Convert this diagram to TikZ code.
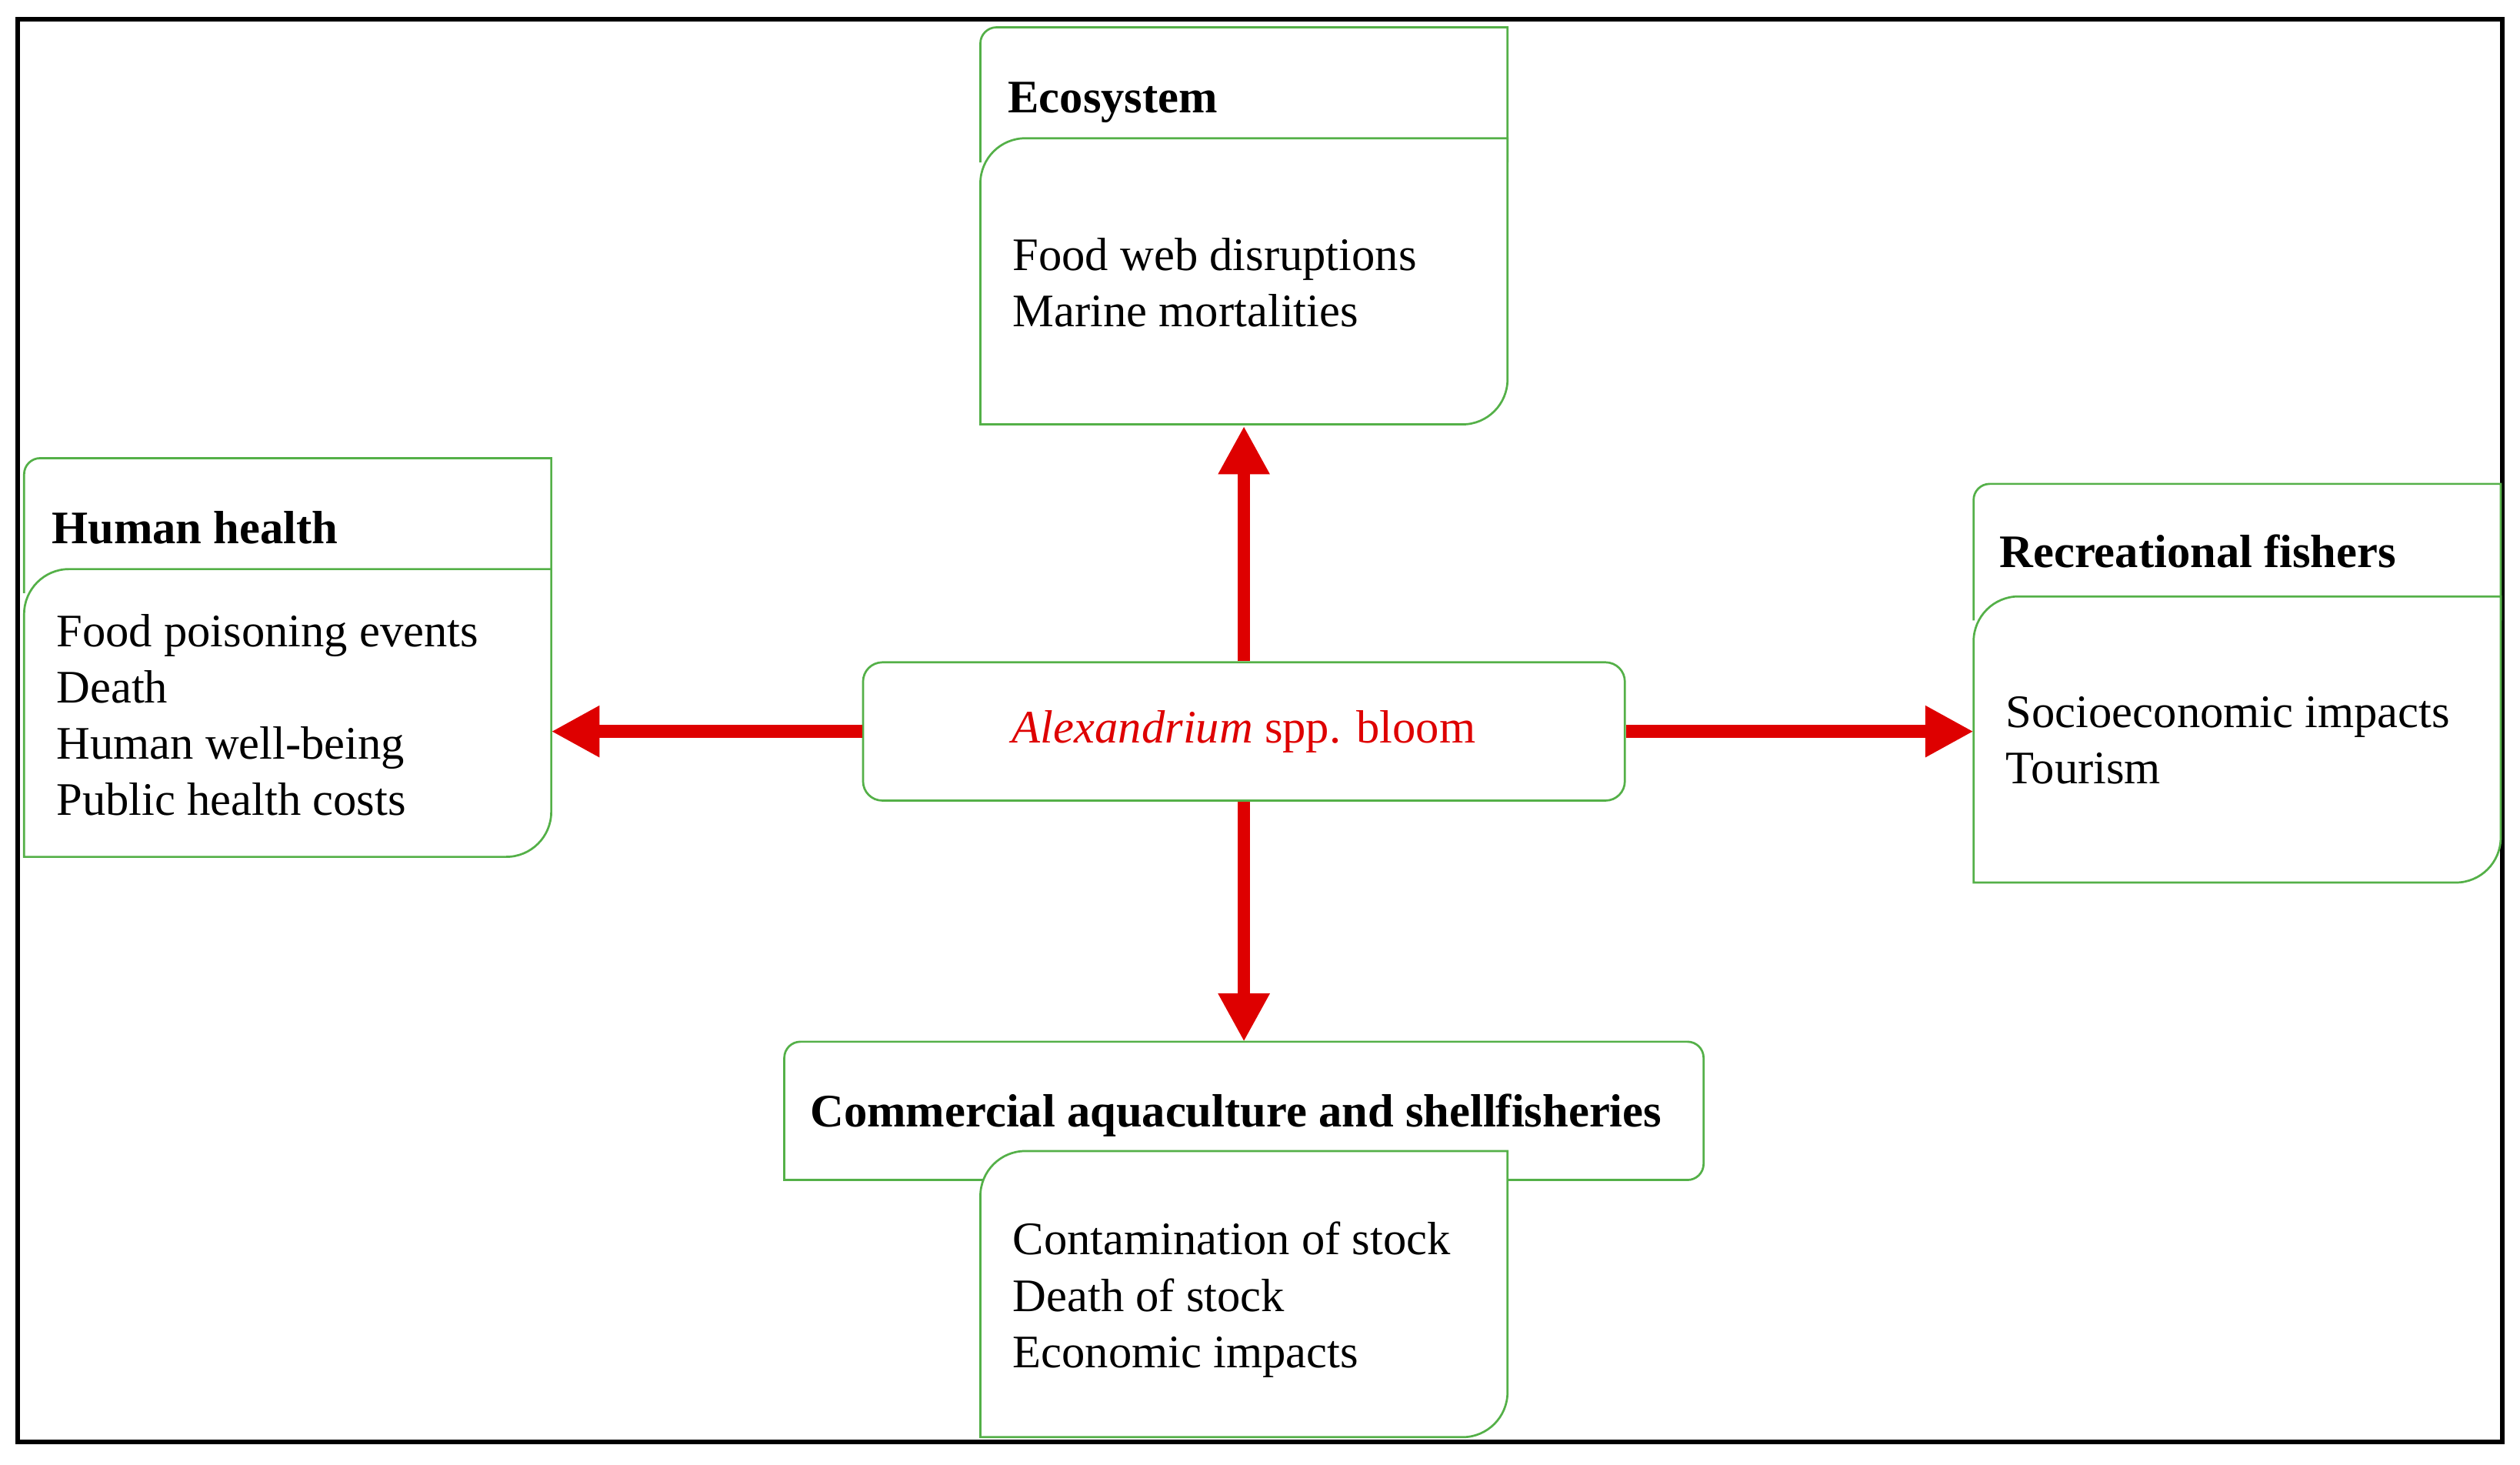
\documentclass[tikz,border=0pt]{standalone}
\usepackage{fontspec}
\setmainfont{Liberation Serif}
\usetikzlibrary{arrows.meta}
\definecolor{gr}{RGB}{84,176,72}
\definecolor{rd}{RGB}{222,0,0}
\begin{document}
\begin{tikzpicture}[x=1pt,y=-1pt,
  hdr/.style={draw=gr,line width=1.3pt,fill=white},
  cnt/.style={draw=gr,line width=1.3pt,fill=white},
  ttl/.style={anchor=base west,inner sep=0,font=\fontsize{29}{30}\selectfont\bfseries},
  txt/.style={anchor=north west,inner sep=0,align=left,font=\fontsize{29}{35}\selectfont},
  arr/.style={draw=rd,line width=8pt,-{Triangle[length=30pt,width=30pt]}}]
\useasboundingbox (0,0) rectangle (1568,911);
\draw[line width=3pt] (11,12) rectangle (1557,897);
% Ecosystem
\draw[hdr] (610,101) -- (610,27) arc[start angle=180,end angle=270,radius=10] -- (938,17) -- (938,101);
\draw[cnt] (610,264) -- (610,114) arc[start angle=180,end angle=270,radius=28] -- (938,86) -- (938,236) arc[start angle=0,end angle=90,radius=28] -- cycle;
\node[ttl] (eT) at (627,70) {Ecosystem};
\node[txt] (eX) at (630,148) {Food web disruptions\\Marine mortalities};
% Human health
\draw[hdr] (15,369) -- (15,295) arc[start angle=180,end angle=270,radius=10] -- (343,285) -- (343,369);
\draw[cnt] (15,533) -- (15,382) arc[start angle=180,end angle=270,radius=28] -- (343,354) -- (343,505) arc[start angle=0,end angle=90,radius=28] -- cycle;
\node[ttl] (hT) at (32,338) {Human health};
\node[txt] (hX) at (35,382) {Food poisoning events\\Death\\Human well-being\\Public health costs};
% Recreational
\draw[hdr] (1228,386) -- (1228,311) arc[start angle=180,end angle=270,radius=10] -- (1556,301) -- (1556,386);
\draw[cnt] (1228,549) -- (1228,399) arc[start angle=180,end angle=270,radius=28] -- (1556,371) -- (1556,521) arc[start angle=0,end angle=90,radius=28] -- cycle;
\node[ttl] (rT) at (1244,353) {Recreational fishers};
\node[txt] (rX) at (1248,433) {Socioeconomic impacts\\Tourism};
% Commercial
\draw[hdr] (488,734) -- (488,658) arc[start angle=180,end angle=270,radius=10] -- (1050,648) arc[start angle=270,end angle=360,radius=10] -- (1060,724) arc[start angle=0,end angle=90,radius=10] -- cycle;
\draw[cnt] (610,894) -- (610,744) arc[start angle=180,end angle=270,radius=28] -- (938,716) -- (938,866) arc[start angle=0,end angle=90,radius=28] -- cycle;
\node[ttl] (cT) at (504,701) {Commercial aquaculture and shellfisheries};
\node[txt] (cX) at (630,760) {Contamination of stock\\Death of stock\\Economic impacts};
% centre
\node[draw=gr,line width=1.3pt,rounded corners=12pt,minimum width=474pt,minimum height=86pt,inner sep=0,
  font=\fontsize{29}{30}\selectfont,text=rd] (c) at (774,455) {\textit{Alexandrium} spp. bloom};
\coordinate (up) at (774,265);
\coordinate (dn) at (774,648);
\coordinate (lf) at (343,455);
\coordinate (rt) at (1228,455);
\draw[arr] (c.north) -- (up);
\draw[arr] (c.south) -- (dn);
\draw[arr] (c.west) -- (lf);
\draw[arr] (c.east) -- (rt);
\end{tikzpicture}
\end{document}
